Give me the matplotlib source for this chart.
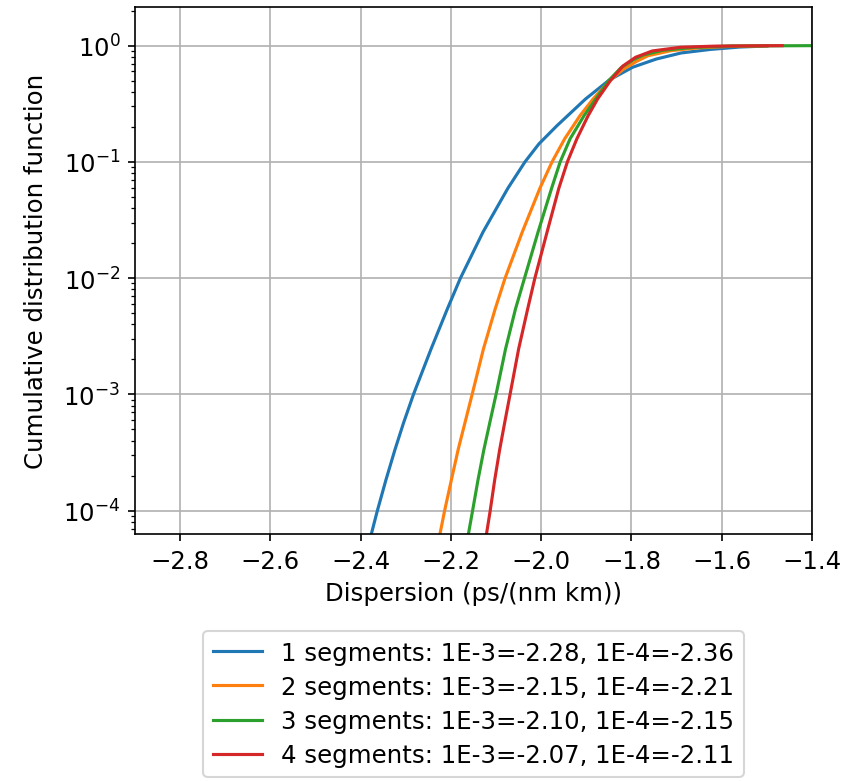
import matplotlib
matplotlib.use("Agg")
import matplotlib.pyplot as plt

# values (dispersion, CDF)
disp_1seg = [-2.386, -2.376, -2.363, -2.344, -2.324, -2.305, -2.283, -2.244, -2.208,
             -2.179, -2.129, -2.074, -2.036, -2.005, -1.965, -1.902, -1.849, -1.797,
             -1.745, -1.690, -1.624, -1.560, -1.500]
cdf_1seg = [4.47e-5, 6.38e-5, 1.0e-4, 1.84e-4, 3.35e-4, 5.69e-4, 1.0e-3, 2.46e-3, 5.43e-3,
            0.0100, 0.0249, 0.0592, 0.100, 0.143, 0.205, 0.347, 0.507, 0.653,
            0.767, 0.865, 0.929, 0.973, 0.993]

disp_2seg = [-2.232, -2.224, -2.214, -2.199, -2.184, -2.169, -2.153, -2.128, -2.102,
             -2.080, -2.042, -2.003, -1.976, -1.948, -1.914, -1.885, -1.849, -1.818,
             -1.788, -1.763, -1.712, -1.655, -1.581, -1.500]
cdf_2seg = [4.47e-5, 6.38e-5, 1.0e-4, 1.84e-4, 3.35e-4, 5.69e-4, 1.0e-3, 2.46e-3, 5.43e-3,
            0.0100, 0.0249, 0.0592, 0.100, 0.158, 0.250, 0.348, 0.498, 0.627,
            0.735, 0.820, 0.906, 0.955, 0.986, 0.995]

disp_3seg = [-2.168, -2.161, -2.152, -2.140, -2.127, -2.114, -2.100, -2.079, -2.057,
             -2.037, -2.007, -1.977, -1.958, -1.936, -1.905, -1.879, -1.851, -1.823,
             -1.795, -1.773, -1.731, -1.663, -1.581, -1.400]
cdf_3seg = [4.47e-5, 6.38e-5, 1.0e-4, 1.84e-4, 3.35e-4, 5.69e-4, 1.0e-3, 2.46e-3, 5.43e-3,
            0.0100, 0.0249, 0.0592, 0.100, 0.158, 0.250, 0.348, 0.498, 0.647,
            0.759, 0.832, 0.912, 0.966, 0.993, 1.0]

disp_4seg = [-2.126, -2.121, -2.113, -2.103, -2.092, -2.081, -2.069, -2.050, -2.030,
             -2.014, -1.987, -1.961, -1.942, -1.921, -1.896, -1.875, -1.847, -1.819,
             -1.791, -1.754, -1.692, -1.618, -1.466]
cdf_4seg = [4.47e-5, 6.38e-5, 1.0e-4, 1.84e-4, 3.35e-4, 5.69e-4, 1.0e-3, 2.46e-3, 5.43e-3,
            0.0100, 0.0249, 0.0592, 0.100, 0.158, 0.250, 0.348, 0.498, 0.668,
            0.794, 0.900, 0.968, 0.990, 1.0]

labels = ["1 segments: 1E-3=-2.28, 1E-4=-2.36",
          "2 segments: 1E-3=-2.15, 1E-4=-2.21",
          "3 segments: 1E-3=-2.10, 1E-4=-2.15",
          "4 segments: 1E-3=-2.07, 1E-4=-2.11"]

plt.rcParams['font.size'] = 11.7

W, H = 844, 782
fig = plt.figure(figsize=(W / 150, H / 150), dpi=150)
ax = fig.add_axes([135 / W, 1 - 535 / H, (812 - 135) / W, (535 - 8) / H])

ax.semilogy(disp_1seg, cdf_1seg, label=labels[0])
ax.semilogy(disp_2seg, cdf_2seg, label=labels[1])
ax.semilogy(disp_3seg, cdf_3seg, label=labels[2])
ax.semilogy(disp_4seg, cdf_4seg, label=labels[3])

ax.set_xlim(-2.9, -1.4)
ax.set_ylim(6.3e-5, 2.15)
ax.grid(True)
ax.set_xlabel("Dispersion (ps/(nm km))")
ax.set_ylabel("Cumulative distribution function", labelpad=7)

ax.legend(loc="upper center", bbox_to_anchor=(0.5, -0.161), labelspacing=0.42)

fig.savefig("out.png", dpi=150)
